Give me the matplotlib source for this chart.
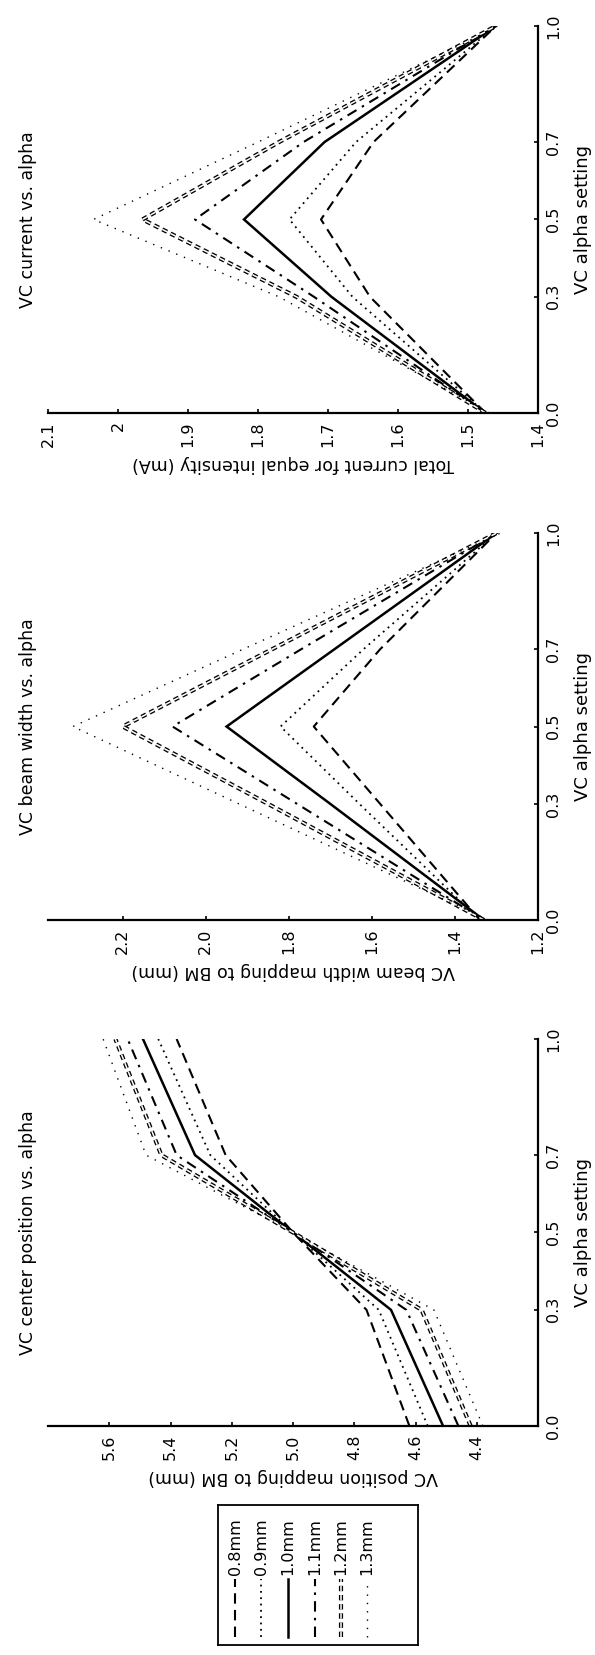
import matplotlib
matplotlib.use("Agg")
import matplotlib.pyplot as plt
import matplotlib.patheffects as pe

plt.rcParams['font.family'] = ['DejaVu Sans']

# alpha settings where each curve was sampled
alpha = [0.0, 0.3, 0.5, 0.7, 1.0]
widths = ['0.8mm', '0.9mm', '1.0mm', '1.1mm', '1.2mm', '1.3mm']

# VC center position mapped to BM (mm)
center_pos = [
    [4.62, 4.76, 5.00, 5.22, 5.38],
    [4.56, 4.72, 5.00, 5.27, 5.44],
    [4.51, 4.68, 5.00, 5.32, 5.49],
    [4.46, 4.63, 5.00, 5.38, 5.54],
    [4.42, 4.58, 5.00, 5.43, 5.58],
    [4.38, 4.54, 5.00, 5.48, 5.62],
]

# VC beam width mapped to BM (mm)
beam_width = [
    [1.34, 1.58, 1.74, 1.58, 1.30],
    [1.34, 1.63, 1.82, 1.62, 1.30],
    [1.33, 1.70, 1.95, 1.69, 1.30],
    [1.33, 1.78, 2.08, 1.77, 1.30],
    [1.33, 1.85, 2.20, 1.84, 1.30],
    [1.32, 1.92, 2.32, 1.91, 1.29],
]

# total current for equal intensity (mA)
current = [
    [1.475, 1.640, 1.710, 1.635, 1.460],
    [1.475, 1.665, 1.755, 1.660, 1.460],
    [1.475, 1.695, 1.820, 1.705, 1.460],
    [1.475, 1.720, 1.890, 1.735, 1.460],
    [1.475, 1.745, 1.965, 1.770, 1.460],
    [1.470, 1.770, 2.035, 1.800, 1.455],
]

alpha_ticks = [0.0, 0.3, 0.5, 0.7, 1.0]

pos_ticks = [4.4, 4.6, 4.8, 5.0, 5.2, 5.4, 5.6]
width_ticks = [1.2, 1.4, 1.6, 1.8, 2.0, 2.2]
cur_ticks = [1.4, 1.5, 1.6, 1.7, 1.8, 1.9, 2.0, 2.1]
cur_labels = ['1.4', '1.5', '1.6', '1.7', '1.8', '1.9', '2', '2.1']

hollow = [pe.Stroke(linewidth=3.0, foreground='black'), pe.Normal()]
styles = [
    dict(color='black', ls=(0, (5, 3)), lw=1.5),
    dict(color='black', ls=(0, (1, 2.5)), lw=1.3),
    dict(color='black', ls='-', lw=1.8),
    dict(color='black', ls=(0, (5, 3, 1.2, 3)), lw=1.5),
    dict(color='white', ls=(0, (3.5, 2.5)), lw=1.1, path_effects=hollow),
    dict(color='black', ls=(0, (1, 5)), lw=1.0),
]

fig = plt.figure(figsize=(5.95, 16.55), dpi=100)

L, W, H = 0.0807, 0.8235, 0.2338
panels = [
    (0.1384, center_pos, (5.8, 4.2), pos_ticks, ['%.1f' % t for t in pos_ticks],
     'VC center position vs. alpha', 'VC position mapping to BM (mm)'),
    (0.4441, beam_width, (2.38, 1.2), width_ticks, ['%.1f' % t for t in width_ticks],
     'VC beam width vs. alpha', 'VC beam width mapping to BM (mm)'),
    (0.7505, current, (2.1, 1.4), cur_ticks, cur_labels,
     'VC current vs. alpha', 'Total current for equal intensity (mA)'),
]

# the whole figure is laid out turned a quarter turn: alpha runs up the page
for bottom, data, vlim, vticks, vlabels, title, vname in panels:
    ax = fig.add_axes([L, bottom, W, H])
    for vals, st in zip(data, styles):
        ax.plot(vals, alpha, solid_joinstyle='miter', **st)
    ax.set_xlim(*vlim)
    ax.set_ylim(0, 1)
    ax.set_xticks(vticks)
    ax.set_xticklabels(vlabels, rotation=90, fontsize=11.5)
    ax.set_yticks(alpha_ticks)
    ax.set_yticklabels(['%.1f' % a for a in alpha_ticks], rotation=90,
                       va='center', fontsize=11.5)
    ax.yaxis.tick_right()
    ax.yaxis.set_label_position('right')
    ax.set_ylabel('VC alpha setting', rotation=90, fontsize=13, labelpad=9)
    ax.set_xlabel(vname, rotation=180, fontsize=12.5, labelpad=6)
    ax.tick_params(direction='in', length=3, width=1.2, pad=6)
    for side in ('top', 'left'):
        ax.spines[side].set_visible(False)
    for side in ('right', 'bottom'):
        ax.spines[side].set_linewidth(1.6)
    ax.text(-0.04, 0.5, title, transform=ax.transAxes, rotation=90,
            ha='center', va='center', fontsize=12.5)

# legend box, entries side by side
lg = fig.add_axes([0.3664, 0.0060, 0.3361, 0.0846])
lg.set_xlim(0, 1)
lg.set_ylim(0, 1)
lg.set_xticks([])
lg.set_yticks([])
for sp in lg.spines.values():
    sp.set_linewidth(1.3)
xs = [0.085, 0.215, 0.35, 0.485, 0.615, 0.745]
for x, name, st in zip(xs, widths, styles):
    lg.plot([x, x], [0.06, 0.47], **st)
    lg.text(x, 0.50, name, rotation=90, ha='center', va='bottom', fontsize=11.5)

fig.savefig('out.png', dpi=100)
